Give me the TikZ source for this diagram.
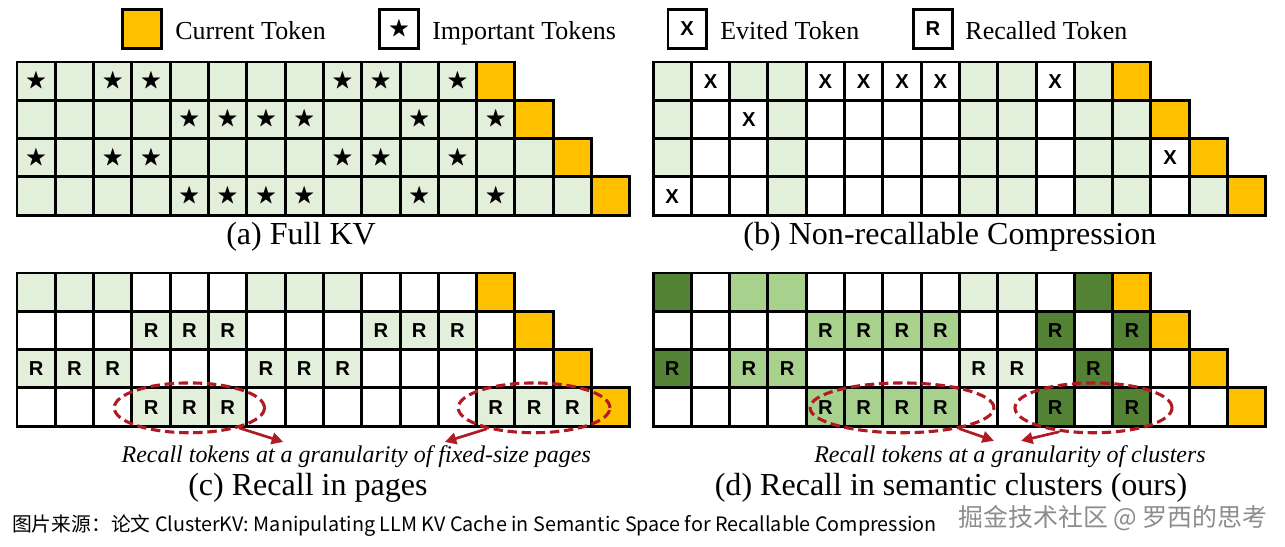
\documentclass[tikz,border=0pt]{standalone}
\usepackage{amssymb}
\usepackage{fontspec}
\setmainfont{Liberation Serif}
\newfontfamily\rfont{Liberation Sans}
\newfontfamily\cjk{Noto Sans CJK SC}
\usetikzlibrary{arrows.meta,shapes.geometric}

\definecolor{lg}{HTML}{E2EFDA}
\definecolor{mg}{HTML}{A9D18E}
\definecolor{dg}{HTML}{548235}
\definecolor{cur}{HTML}{FFC000}
\definecolor{rim}{HTML}{B01A22}

\newcommand\impt{{\fontsize{16}{16}\selectfont$\bigstar$}}

\begin{document}
\begin{tikzpicture}[x=1cm, y=1cm,
  cell/.style={draw, line width=2.2pt, minimum size=1cm, inner sep=0pt,
    font=\rfont\bfseries\fontsize{15}{15}\selectfont},
  leg/.style={font=\fontsize{19.3}{19.3}\selectfont, anchor=base west, inner sep=0pt},
  subcap/.style={font=\fontsize{23.8}{23.8}\selectfont, inner sep=1pt},
  note/.style={font=\itshape\fontsize{17.8}{17.8}\selectfont, inner sep=1pt},
  grp/.style={ellipse, draw=rim, line width=2.3pt, dash pattern=on 7pt off 3.5pt,
    minimum height=1.3cm, inner sep=0pt},
  pt/.style={draw=rim, line width=2pt, -{Triangle[length=3mm, width=3mm]}}]
  \useasboundingbox (0,0) rectangle (33.55,-14.28);

  % legend
  \node[cell, fill=cur] (lcur) at (3.71,-0.757) {};
  \node[leg] (tcur) at (4.57,-1.044) {Current Token};
  \node[cell, fill=white] (limp) at (10.42,-0.757) {\impt};
  \node[leg] (timp) at (11.28,-1.044) {Important Tokens};
  \node[cell, fill=white] (levt) at (17.94,-0.757) {X};
  \node[leg] (tevt) at (18.80,-1.044) {Evited Token};
  \node[cell, fill=white] (lrec) at (24.36,-0.757) {R};
  \node[leg] (trec) at (25.20,-1.044) {Recalled Token};

  % (a) Full KV
  \begin{scope}[shift={(0.444,-1.619)}]
    \foreach \fc/\mk [count=\col] in {lg/\impt, lg/, lg/\impt, lg/\impt, lg/, lg/, lg/, lg/,
        lg/\impt, lg/\impt, lg/, lg/\impt, cur/}
      \node[cell, fill=\fc] (a1-\col) at (\col-0.5,-0.5) {\mk};
    \foreach \fc/\mk [count=\col] in {lg/, lg/, lg/, lg/, lg/\impt, lg/\impt, lg/\impt, lg/\impt,
        lg/, lg/, lg/\impt, lg/, lg/\impt, cur/}
      \node[cell, fill=\fc] (a2-\col) at (\col-0.5,-1.5) {\mk};
    \foreach \fc/\mk [count=\col] in {lg/\impt, lg/, lg/\impt, lg/\impt, lg/, lg/, lg/, lg/,
        lg/\impt, lg/\impt, lg/, lg/\impt, lg/, lg/, cur/}
      \node[cell, fill=\fc] (a3-\col) at (\col-0.5,-2.5) {\mk};
    \foreach \fc/\mk [count=\col] in {lg/, lg/, lg/, lg/, lg/\impt, lg/\impt, lg/\impt, lg/\impt,
        lg/, lg/, lg/\impt, lg/, lg/\impt, lg/, lg/, cur/}
      \node[cell, fill=\fc] (a4-\col) at (\col-0.5,-3.5) {\mk};
  \end{scope}
  \node[subcap] (capa) at (7.86,-6.19) {(a) Full KV};

  % (b) Non-recallable Compression
  \begin{scope}[shift={(17.05,-1.619)}]
    \foreach \fc/\mk [count=\col] in {lg/, white/X, lg/, lg/, white/X, white/X, white/X, white/X,
        lg/, lg/, white/X, lg/, cur/}
      \node[cell, fill=\fc] (b1-\col) at (\col-0.5,-0.5) {\mk};
    \foreach \fc/\mk [count=\col] in {lg/, white/, white/X, lg/, white/, white/, white/, white/,
        lg/, lg/, white/, lg/, lg/, cur/}
      \node[cell, fill=\fc] (b2-\col) at (\col-0.5,-1.5) {\mk};
    \foreach \fc/\mk [count=\col] in {lg/, white/, white/, lg/, white/, white/, white/, white/,
        lg/, lg/, white/, lg/, lg/, white/X, cur/}
      \node[cell, fill=\fc] (b3-\col) at (\col-0.5,-2.5) {\mk};
    \foreach \fc/\mk [count=\col] in {white/X, white/, white/, lg/, white/, white/, white/, white/,
        lg/, lg/, white/, lg/, lg/, white/, lg/, cur/}
      \node[cell, fill=\fc] (b4-\col) at (\col-0.5,-3.5) {\mk};
  \end{scope}
  \node[subcap] (capb) at (24.80,-6.19) {(b) Non-recallable Compression};

  % (c) Recall in pages
  \begin{scope}[shift={(0.444,-7.128)}]
    \foreach \fc/\mk [count=\col] in {lg/, lg/, lg/, white/, white/, white/, lg/, lg/, lg/,
        white/, white/, white/, cur/}
      \node[cell, fill=\fc] (c1-\col) at (\col-0.5,-0.5) {\mk};
    \foreach \fc/\mk [count=\col] in {white/, white/, white/, lg/R, lg/R, lg/R, white/, white/,
        white/, lg/R, lg/R, lg/R, white/, cur/}
      \node[cell, fill=\fc] (c2-\col) at (\col-0.5,-1.5) {\mk};
    \foreach \fc/\mk [count=\col] in {lg/R, lg/R, lg/R, white/, white/, white/, lg/R, lg/R,
        lg/R, white/, white/, white/, white/, white/, cur/}
      \node[cell, fill=\fc] (c3-\col) at (\col-0.5,-2.5) {\mk};
    \foreach \fc/\mk [count=\col] in {white/, white/, white/, lg/R, lg/R, lg/R, white/, white/,
        white/, white/, white/, white/, lg/R, lg/R, lg/R, cur/}
      \node[cell, fill=\fc] (c4-\col) at (\col-0.5,-3.5) {\mk};
    \node[grp, minimum width=3.92cm] (cpg1) at (4.5,-3.52) {};
    \node[grp, minimum width=3.96cm] (cpg2) at (13.5,-3.52) {};
    \coordinate (ctip1) at (6.95,-4.41);
    \coordinate (ctip2) at (11.17,-4.41);
    \draw[pt] (cpg1.-22) -- (ctip1);
    \draw[pt] (cpg2.-156) -- (ctip2);
  \end{scope}
  \node[note] (notec) at (9.30,-11.93) {Recall tokens at a granularity of fixed-size pages};
  \node[subcap] (capc) at (8.04,-12.74) {(c) Recall in pages};

  % (d) Recall in semantic clusters
  \begin{scope}[shift={(17.05,-7.128)}]
    \foreach \fc/\mk [count=\col] in {dg/, white/, mg/, mg/, white/, white/, white/, white/,
        lg/, lg/, white/, dg/, cur/}
      \node[cell, fill=\fc] (d1-\col) at (\col-0.5,-0.5) {\mk};
    \foreach \fc/\mk [count=\col] in {white/, white/, white/, white/, mg/R, mg/R, mg/R, mg/R,
        white/, white/, dg/R, white/, dg/R, cur/}
      \node[cell, fill=\fc] (d2-\col) at (\col-0.5,-1.5) {\mk};
    \foreach \fc/\mk [count=\col] in {dg/R, white/, mg/R, mg/R, white/, white/, white/, white/,
        lg/R, lg/R, white/, dg/R, white/, white/, cur/}
      \node[cell, fill=\fc] (d3-\col) at (\col-0.5,-2.5) {\mk};
    \foreach \fc/\mk [count=\col] in {white/, white/, white/, white/, mg/R, mg/R, mg/R, mg/R,
        white/, white/, dg/R, white/, dg/R, white/, white/, cur/}
      \node[cell, fill=\fc] (d4-\col) at (\col-0.5,-3.5) {\mk};
    \node[grp, minimum width=4.8cm] (dcl1) at (6.5,-3.52) {};
    \node[grp, minimum width=4.1cm] (dcl2) at (11.5,-3.52) {};
    \coordinate (dtip1) at (8.9,-4.38);
    \coordinate (dtip2) at (9.61,-4.38);
    \draw[pt] (dcl1.-20) -- (dtip1);
    \draw[pt] (dcl2.-145) -- (dtip2);
  \end{scope}
  \node[note] (noted) at (26.37,-11.91) {Recall tokens at a granularity of clusters};
  \node[subcap] (capd) at (24.83,-12.74) {(d) Recall in semantic clusters (ours)};

  % source line and mark
  \node[anchor=west, inner sep=0pt, font=\cjk\fontsize{14.7}{14.7}\selectfont] (src) at (0.31,-13.73)
    {图片来源：论文 ClusterKV: Manipulating LLM KV Cache in Semantic Space for Recallable Compression};
  \node[inner sep=0pt, text=black!45, font=\cjk\fontsize{18.5}{18.5}\selectfont] (wmark) at (29.06,-13.52)
    {掘金技术社区 @ 罗西的思考};
\end{tikzpicture}
\end{document}
